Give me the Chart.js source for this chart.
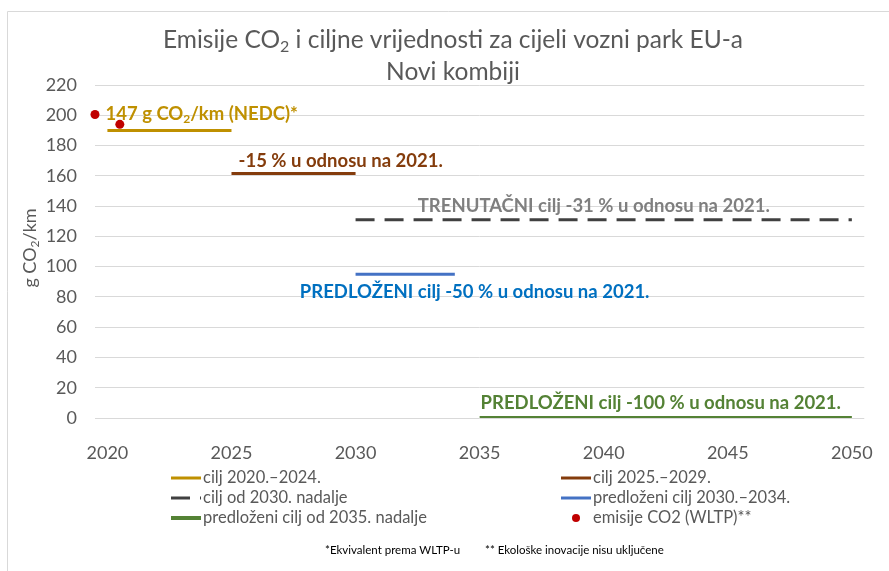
<!DOCTYPE html>
<html>
<head>
<meta charset="utf-8">
<script src="https://cdn.jsdelivr.net/npm/chart.js@4/dist/chart.umd.min.js"></script>
<style>
  html, body { margin: 0; padding: 0; background: #fff; }
</style>
</head>
<body>
<canvas id="myChart" width="889" height="571"></canvas>
<script>
// --- data ---
const tickYears = [2020, 2025, 2030, 2035, 2040, 2045, 2050];

const seriesLabels = [
    "cilj 2020.–2024.",
    "cilj 2025.–2029.",
    "cilj od 2030. nadalje",
    "predloženi cilj 2030.–2034.",
    "predloženi cilj od 2035. nadalje",
    "emisije CO2 (WLTP)**"
];

const cilj2020Years = [2020, 2025];
const cilj2020Values = [190, 190];

const cilj2025Years = [2025, 2030];
const cilj2025Values = [161.5, 161.5];

const cilj2030Years = [2030, 2050];
const cilj2030Values = [131, 131];

const predlozeni2030Years = [2030, 2034];
const predlozeni2030Values = [95, 95];

const predlozeni2035Years = [2035, 2050];
const predlozeni2035Values = [0, 0];

const emisijeYears = [2019.5, 2020.5];
const emisijeValues = [200.5, 194];

const noteTexts = [
    "147 g CO₂/km (NEDC)*",
    "-15 % u odnosu na 2021.",
    "TRENUTAČNI cilj -31 % u odnosu na 2021.",
    "PREDLOŽENI cilj -50 % u odnosu na 2021.",
    "PREDLOŽENI cilj -100 % u odnosu na 2021."
];
const noteYears = [2023.8, 2029.4, 2039.6, 2034.8, 2042.3];
const noteValues = [201, 170, 140, 83, 10];

const titleLines = ["Emisije CO₂ i ciljne vrijednosti za cijeli vozni park EU-a", "Novi kombiji"];
const yTitle = "g CO₂/km";
const footnotes = ["*Ekvivalent prema WLTP-u", "** Ekološke inovacije nisu uključene"];

// --- styles ---
const FONT = "Lato";
const GREY = "#595959";
const noteColors = ["#bf9000", "#843c0c", "#7f7f7f", "#0070c0", "#548235"];

const toPoints = (xs, ys) => xs.map((x, i) => ({ x: x, y: ys[i] }));

const fontOf = (size, bold) => (bold ? "bold " : "") + size + "px " + FONT;

// draws text, rendering "₂" as a real subscript 2
const drawRich = (ctx, text, x, y, size, bold, align) => {
    const pieces = text.split("₂");
    const subSize = Math.round(size * 0.65);
    ctx.font = fontOf(subSize, bold);
    const subW = ctx.measureText("2").width;
    ctx.font = fontOf(size, bold);
    let total = 0;
    pieces.forEach(p => total += ctx.measureText(p).width);
    total += (pieces.length - 1) * subW;
    let cx = align == "center" ? x - total / 2 : (align == "left" ? x : x - total);
    ctx.textAlign = "left";
    ctx.textBaseline = "middle";
    pieces.forEach((p, i) => {
        ctx.font = fontOf(size, bold);
        ctx.fillText(p, cx, y);
        cx += ctx.measureText(p).width;
        if (i < pieces.length - 1) {
            ctx.font = fontOf(subSize, bold);
            ctx.fillText("2", cx, y + size * 0.28);
            cx += subW;
        }
    });
};

const decorPlugin = {
    id: "decor",
    afterDraw(chart) {
        const ctx = chart.ctx;
        const xs = chart.scales.x;
        const ys = chart.scales.y;
        ctx.save();

        // outer frame (top and left only visible)
        ctx.strokeStyle = "#d9d9d9";
        ctx.lineWidth = 1;
        ctx.beginPath();
        ctx.moveTo(7.5, 571);
        ctx.lineTo(7.5, 11.5);
        ctx.lineTo(889, 11.5);
        ctx.stroke();

        // title
        ctx.fillStyle = GREY;
        drawRich(ctx, titleLines[0], 453, 40, 24.5, false, "center");
        drawRich(ctx, titleLines[1], 453, 72, 24.5, false, "center");

        // y axis title
        ctx.save();
        ctx.translate(30, 248);
        ctx.rotate(-Math.PI / 2);
        drawRich(ctx, yTitle, 0, 0, 18, false, "center");
        ctx.restore();

        // notes on the plot
        noteTexts.forEach((t, i) => {
            ctx.fillStyle = noteColors[i];
            drawRich(ctx, t, xs.getPixelForValue(noteYears[i]), ys.getPixelForValue(noteValues[i]), 18.5, true, "center");
        });

        // legend in two columns
        const colX = [171, 561];
        const rowY = [478, 498, 518];
        chart.data.datasets.forEach((ds, i) => {
            const x0 = colX[i % 2];
            const y0 = rowY[Math.floor(i / 2)];
            if (ds.showLine) {
                ctx.strokeStyle = ds.borderColor;
                ctx.lineWidth = ds.borderWidth;
                ctx.setLineDash(ds.borderDash || []);
                ctx.beginPath();
                ctx.moveTo(x0, y0);
                ctx.lineTo(x0 + 30, y0);
                ctx.stroke();
                ctx.setLineDash([]);
            } else {
                ctx.fillStyle = ds.backgroundColor;
                ctx.beginPath();
                ctx.arc(x0 + 15, y0, 4, 0, Math.PI * 2);
                ctx.fill();
            }
            ctx.fillStyle = GREY;
            drawRich(ctx, ds.label, x0 + 32, y0, 16.5, false, "left");
        });

        // footnotes
        ctx.fillStyle = "#000";
        drawRich(ctx, footnotes[0], 325, 550, 11.5, false, "left");
        drawRich(ctx, footnotes[1], 485, 550, 11.5, false, "left");

        ctx.restore();
    }
};

const lineSet = (label, xs, ys, color, width, dash) => ({
    label: label,
    data: toPoints(xs, ys),
    showLine: true,
    borderColor: color,
    backgroundColor: color,
    borderWidth: width,
    borderDash: dash,
    pointRadius: 0,
    fill: false
});

const config = {
    type: "scatter",
    data: {
        datasets: [
            lineSet(seriesLabels[0], cilj2020Years, cilj2020Values, "#bf9000", 3),
            lineSet(seriesLabels[1], cilj2025Years, cilj2025Values, "#843c0c", 3),
            lineSet(seriesLabels[2], cilj2030Years, cilj2030Values, "#404040", 3, [19, 10]),
            lineSet(seriesLabels[3], predlozeni2030Years, predlozeni2030Values, "#4472c4", 3),
            lineSet(seriesLabels[4], predlozeni2035Years, predlozeni2035Values, "#548235", 4),
            {
                label: seriesLabels[5],
                data: toPoints(emisijeYears, emisijeValues),
                showLine: false,
                backgroundColor: "#c00000",
                borderWidth: 0,
                pointRadius: 4.5,
                clip: false
            }
        ]
    },
    options: {
        responsive: false,
        animation: false,
        layout: { padding: { left: 0, right: 16, top: 85, bottom: 0 } },
        plugins: {
            legend: { display: false },
            tooltip: { enabled: false }
        },
        scales: {
            x: {
                type: "linear",
                min: 2019.5,
                max: 2050.5,
                afterBuildTicks: axis => { axis.ticks = tickYears.map(v => ({ value: v })); },
                afterFit: s => { s.height = 153; },
                ticks: {
                    autoSkip: false,
                    maxRotation: 0,
                    padding: 16,
                    color: GREY,
                    font: { family: FONT, size: 18 },
                    callback: v => String(v)
                },
                grid: { display: false },
                border: { display: false }
            },
            y: {
                min: 0,
                max: 220,
                afterFit: s => { s.width = 95; },
                ticks: {
                    stepSize: 20,
                    padding: 18,
                    color: GREY,
                    font: { family: FONT, size: 18 }
                },
                grid: { color: "#d9d9d9", drawTicks: false },
                border: { display: false }
            }
        }
    },
    plugins: [decorPlugin]
};

const myChart = new Chart(document.getElementById("myChart").getContext("2d"), config);
</script>
</body>
</html>
